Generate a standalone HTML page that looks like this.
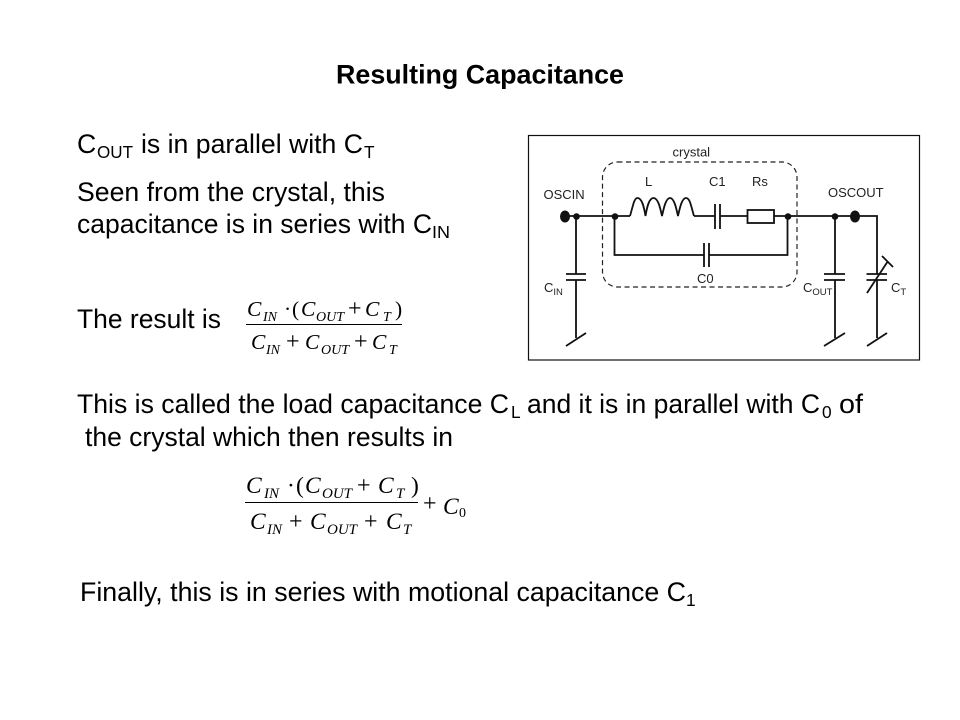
<!DOCTYPE html>
<html><head><meta charset="utf-8"><style>
html,body{margin:0;padding:0;background:#fff}
svg{display:block}
.t{font-family:"Liberation Sans",sans-serif;font-size:26.6px;fill:#000}
.s{font-size:17.3px}
.d{font-family:"Liberation Sans",sans-serif;font-size:13px;fill:#222}
.ds{font-size:9.5px}
.f{font-family:"Liberation Serif",serif;font-style:italic;fill:#000}
.n{font-style:normal}
.a{font-size:21.5px}.b{font-size:14px}
.c{font-size:23.5px}.e{font-size:15px}
.p{font-size:24px}
.w{fill:none;stroke:#111;stroke-width:1.8}
</style></head><body>
<svg width="960" height="720" viewBox="0 0 960 720" xmlns="http://www.w3.org/2000/svg">
<rect width="960" height="720" fill="#fff"/>
<text class="t" x="336" y="83.5" font-weight="bold" textLength="288" lengthAdjust="spacingAndGlyphs">Resulting Capacitance</text>

<text class="t" x="77" y="153">C</text>
<text class="t s" x="97" y="158" textLength="36" lengthAdjust="spacingAndGlyphs">OUT</text>
<text class="t" x="141" y="153" textLength="222" lengthAdjust="spacingAndGlyphs">is in parallel with C</text>
<text class="t s" x="364" y="158">T</text>

<text class="t" x="77" y="201" textLength="308" lengthAdjust="spacingAndGlyphs">Seen from the crystal, this</text>
<text class="t" x="77" y="233" textLength="355" lengthAdjust="spacingAndGlyphs">capacitance is in series with C</text>
<text class="t s" x="432" y="238" textLength="18" lengthAdjust="spacingAndGlyphs">IN</text>

<text class="t" x="77" y="328" textLength="144" lengthAdjust="spacingAndGlyphs">The result is</text>

<text class="t" x="77" y="413" textLength="432" lengthAdjust="spacingAndGlyphs">This is called the load capacitance C</text>
<text class="t s" x="511" y="418">L</text>
<text class="t" x="527" y="413" textLength="293" lengthAdjust="spacingAndGlyphs">and it is in parallel with C</text>
<text class="t s" x="822" y="418">0</text>
<text class="t" x="839" y="413" textLength="24" lengthAdjust="spacingAndGlyphs">of</text>

<text class="t" x="85" y="446" textLength="368" lengthAdjust="spacingAndGlyphs">the crystal which then results in</text>

<text class="t" x="80" y="601" textLength="606" lengthAdjust="spacingAndGlyphs">Finally, this is in series with motional capacitance C</text>
<text class="t s" x="686" y="606">1</text>

<!-- formula 1 -->
<g class="f">
<text class="a" x="247" y="316">C</text><text class="b" x="263" y="321">IN</text><text class="a n" x="284" y="316">·</text><text class="a n" x="292" y="316">(</text><text class="a" x="301" y="316">C</text><text class="b" x="316" y="321">OUT</text><text class="p n" x="348" y="316">+</text><text class="a" x="365" y="316">C</text><text class="b" x="383" y="321">T</text><text class="a n" x="395" y="316">)</text>
<text class="a" x="251" y="349">C</text><text class="b" x="266" y="354">IN</text><text class="p n" x="286" y="349">+</text><text class="a" x="305" y="349">C</text><text class="b" x="321" y="354">OUT</text><text class="p n" x="354" y="349">+</text><text class="a" x="372" y="349">C</text><text class="b" x="389" y="354">T</text>
</g>
<line x1="246" y1="324.5" x2="402" y2="324.5" stroke="#000" stroke-width="1"/>

<!-- formula 2 -->
<g class="f">
<text class="c" x="246" y="493">C</text><text class="e" x="264" y="498">IN</text><text class="c n" x="287" y="493">·</text><text class="c n" x="296" y="493">(</text><text class="c" x="305" y="493">C</text><text class="e" x="322" y="498">OUT</text><text class="p n" x="357" y="493">+</text><text class="c" x="378" y="493">C</text><text class="e" x="396" y="498">T</text><text class="c n" x="411" y="493">)</text>
<text class="c" x="250" y="529">C</text><text class="e" x="267" y="534">IN</text><text class="p n" x="289" y="529">+</text><text class="c" x="310" y="529">C</text><text class="e" x="327" y="534">OUT</text><text class="p n" x="364" y="529">+</text><text class="c" x="386" y="529">C</text><text class="e" x="403" y="534">T</text>
<text class="p n" x="423" y="511">+</text><text class="c" x="443" y="514">C</text><text class="b n" x="459" y="517">0</text>
</g>
<line x1="245" y1="502.5" x2="418" y2="502.5" stroke="#000" stroke-width="1"/>

<!-- circuit -->
<rect x="528.5" y="135.5" width="391" height="224.5" fill="#fff" stroke="#111" stroke-width="1.2"/>
<rect x="602.5" y="162" width="194.5" height="125" rx="15" ry="15" fill="none" stroke="#222" stroke-width="1.2" stroke-dasharray="5 3.5"/>
<path class="w" d="M565 216H630M694 216H715M720 216H747M774 216H877V262"/>
<path class="w" d="M630 216C633 206 634 198 637.5 198C642 198 644 207 645.5 216C647 207 649 198 653.5 198C658 198 660 207 662 216C664 207 666 198 670 198C674 198 676 207 678 216C680 207 682 198 686 198C690 198 691 206 694 216" stroke-width="2.2"/>
<path class="w" d="M715 204V229M720 204V229" stroke-width="2.2"/>
<rect x="747.5" y="210" width="26.5" height="13" fill="#fff" stroke="#111" stroke-width="1.8"/>
<path class="w" d="M614.5 216V255H704M709 255H787.5V216"/>
<path class="w" d="M704 243V267M709 243V267" stroke-width="2.2"/>
<path class="w" d="M576 216V274M576 280V338"/>
<path class="w" d="M566 274H586M566 280H586" stroke-width="2.2"/>
<path class="w" d="M566 346L586 333"/>
<path class="w" d="M835 216V274M835 280V338"/>
<path class="w" d="M824 274H845M824 280H845" stroke-width="2.2"/>
<path class="w" d="M824 346L845 333"/>
<path class="w" d="M877 262V274M877 280V338"/>
<path class="w" d="M866.5 274H887M866.5 280H887" stroke-width="2.2"/>
<path class="w" d="M867 346L887 333"/>
<path class="w" d="M867 293L888 261M882 256L893 267"/>
<ellipse cx="565" cy="216.5" rx="5" ry="6" fill="#111"/>
<circle cx="576.5" cy="216.5" r="3.3" fill="#111"/>
<circle cx="615" cy="216.5" r="3.3" fill="#111"/>
<circle cx="788" cy="216.5" r="3.3" fill="#111"/>
<circle cx="835" cy="216.5" r="3.3" fill="#111"/>
<ellipse cx="855" cy="216.5" rx="5" ry="6" fill="#111"/>
<text class="d" x="672.5" y="156.5">crystal</text>
<text class="d" x="543.5" y="199">OSCIN</text>
<text class="d" x="645" y="186">L</text>
<text class="d" x="709" y="186">C1</text>
<text class="d" x="752" y="186">Rs</text>
<text class="d" x="828" y="197">OSCOUT</text>
<text class="d" x="697" y="283">C0</text>
<text class="d" x="544" y="292">C<tspan class="ds" dy="3">IN</tspan></text>
<text class="d" x="803" y="292">C<tspan class="ds" dy="3">OUT</tspan></text>
<text class="d" x="891" y="292">C<tspan class="ds" dy="3">T</tspan></text>
</svg>
</body></html>
